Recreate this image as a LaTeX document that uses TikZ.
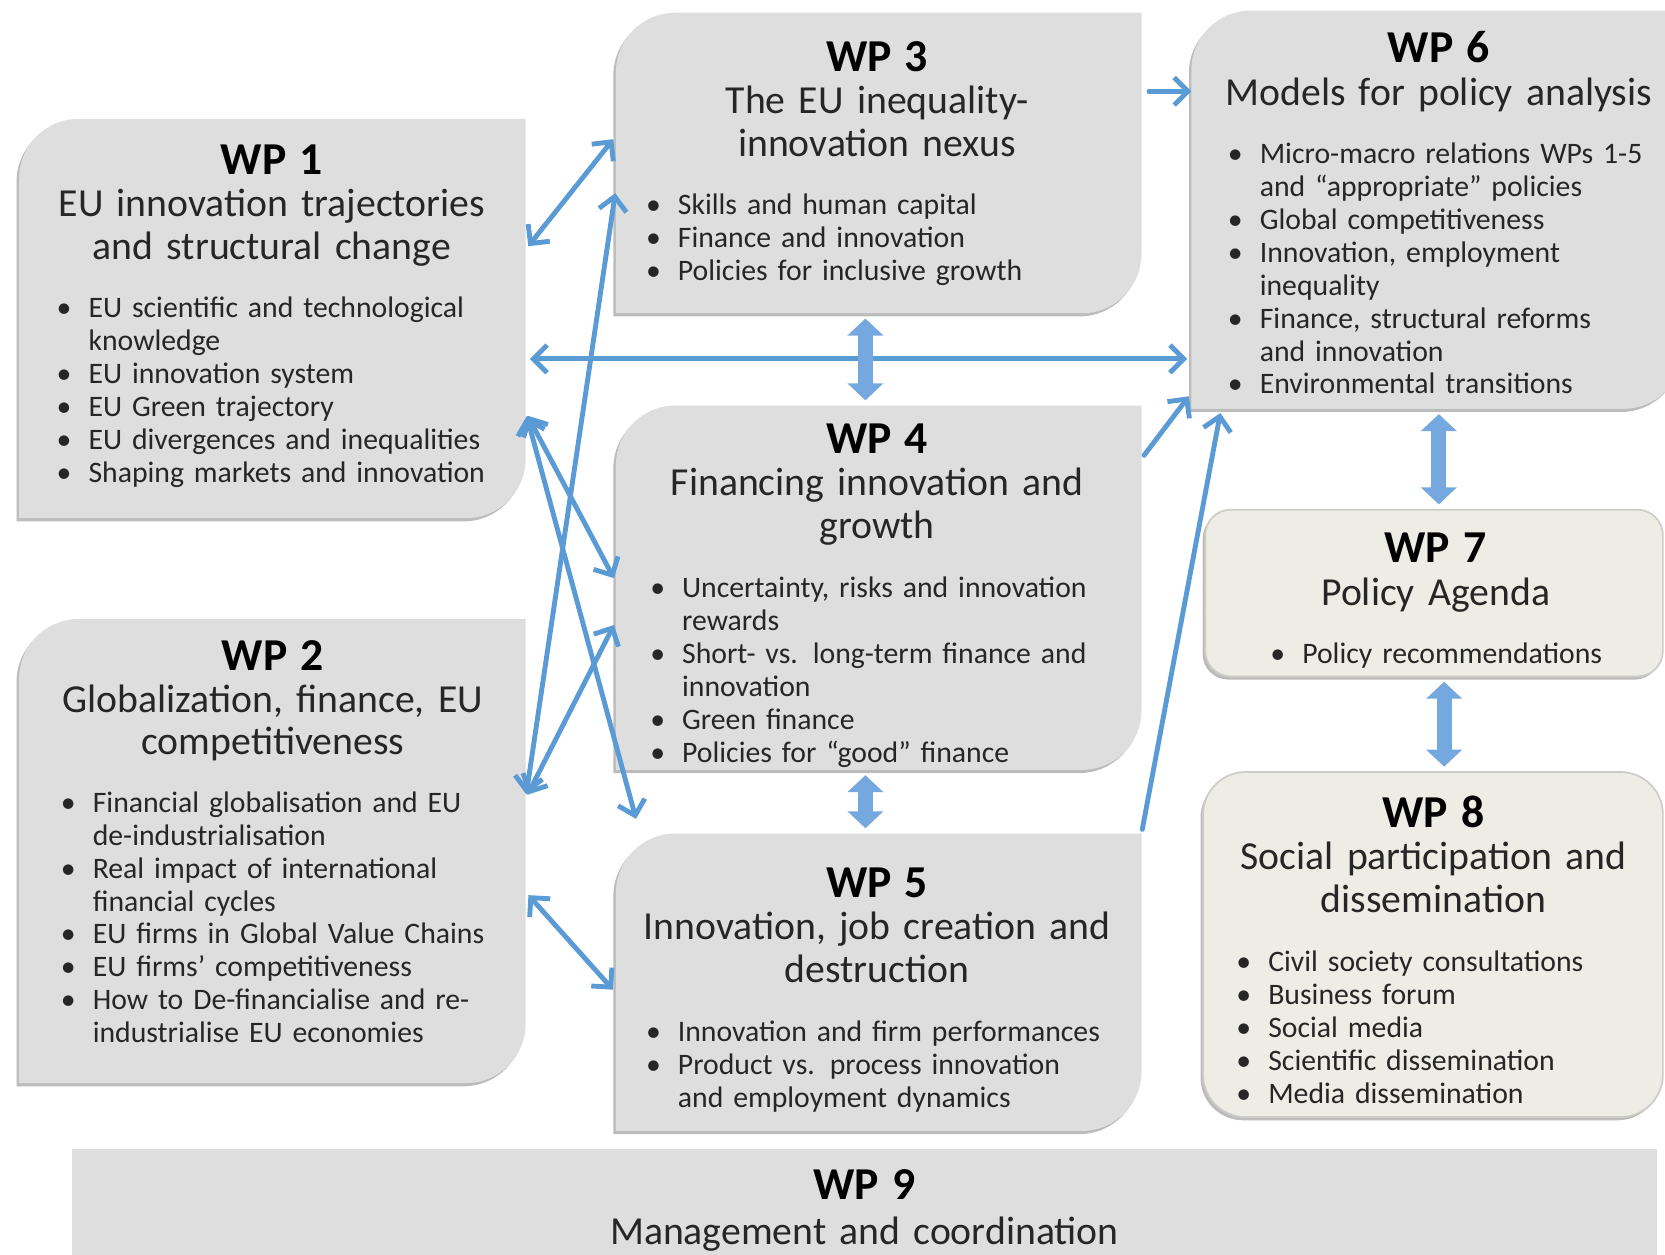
\documentclass[tikz,border=0pt]{standalone}
\usepackage{fontspec}
\setmainfont{Carlito}
\usetikzlibrary{arrows.meta,fit,calc}

\definecolor{wpgray}{RGB}{222,222,222}
\definecolor{wpbeige}{RGB}{237,236,229}
\definecolor{wpedge}{RGB}{205,205,200}
\definecolor{wpshadow}{RGB}{188,188,188}
\definecolor{wpline}{RGB}{91,155,213}
\definecolor{wpblock}{RGB}{118,168,224}
\definecolor{wptext}{RGB}{38,38,38}

\newcommand{\hdfont}{\fontsize{21.5}{22}\selectfont\bfseries\color{black}}
\newcommand{\ttlfont}{\fontsize{18.7}{20}\selectfont}
\newcommand{\bulfont}{\fontsize{14}{15.5}\selectfont}
\newcommand{\bu}{\makebox[15pt][l]{\textbullet}}
\newcommand{\bc}{\hspace*{15pt}}

% box with rounded top left and bottom right corners
\newcommand{\wpshape}[2]{%
  \fill[#2] (#1.south west) -- ([yshift=-28pt]#1.north west)
    .. controls ([yshift=-12.5pt]#1.north west) and ([xshift=12.5pt]#1.north west) .. ([xshift=28pt]#1.north west)
    -- (#1.north east) -- ([yshift=28pt]#1.south east)
    .. controls ([yshift=12.5pt]#1.south east) and ([xshift=-12.5pt]#1.south east) .. ([xshift=-28pt]#1.south east)
    -- cycle;}

\tikzset{
  wp/.style={inner sep=0pt, outer sep=0pt},
  shade/.style={wpshadow, transform canvas={xshift=-1.2pt,yshift=-1.5pt}},
  roundbox/.style={fill=wpbeige, draw=wpedge, line width=0.8pt},
  ttl/.style={anchor=base, text width=250pt, align=center, inner sep=0pt, font=\ttlfont, text=wptext},
  bul/.style={anchor=base west, text width=240pt, align=left, inner sep=0pt, font=\bulfont, text=wptext},
  link/.style={wpline, line width=2.3pt, line cap=round, >={Straight Barb[length=6.5pt,width=13pt]}, shorten <=2pt, shorten >=2pt},
  block/.style={wpblock, line width=7pt, <->, >={Triangle[length=8pt,width=16.5pt]}, shorten <=2.5pt, shorten >=2.5pt},
}

\begin{document}
\begin{tikzpicture}[x=0.5pt,y=-0.5pt]
\useasboundingbox (0,0) rectangle (1568,1181);

% box outlines
\node[wp, fit={(18,112) (495,488)}] (wp1) {};
\node[wp, fit={(18,583) (495,1020)}] (wp2) {};
\node[wp, fit={(580,12) (1075,295)}] (wp3) {};
\node[wp, fit={(580,382) (1075,725)}] (wp4) {};
\node[wp, fit={(580,785) (1075,1065)}] (wp5) {};
\node[wp, fit={(1122,10) (1585,385)}] (wp6) {};
\node[wp, fit={(1135,480) (1566,637)}] (wp7) {};
\node[wp, fit={(1133,727) (1566,1052)}] (wp8) {};
\node[wp, fit={(68,1082) (1560,1200)}] (wp9) {};

\foreach \b in {wp1,wp2,wp3,wp4,wp5,wp6} {
  \wpshape{\b}{shade}
  \wpshape{\b}{wpgray}
}
\fill[shade, rounded corners=12pt] (wp7.south west) rectangle (wp7.north east);
\path[roundbox, rounded corners=12pt] (wp7.south west) rectangle (wp7.north east);
\fill[shade, rounded corners=20pt] (wp8.south west) rectangle (wp8.north east);
\path[roundbox, rounded corners=20pt] (wp8.south west) rectangle (wp8.north east);
\fill[wpgray] (wp9.south west) rectangle (wp9.north east);

% WP 1
\node[ttl] (wp1t) at (256,164) {{\hdfont WP 1}\\EU innovation trajectories\\and structural change};
\node[bul] (wp1b) at (53,299) {\bu EU scientific and technological\\\bc knowledge\\\bu EU innovation system\\\bu EU Green trajectory\\\bu EU divergences and inequalities\\\bu Shaping markets and innovation};

% WP 2
\node[ttl] (wp2t) at (257,631) {{\hdfont WP 2}\\Globalization, finance, EU\\competitiveness};
\node[bul] (wp2b) at (57,765) {\bu Financial globalisation and EU\\\bc de-industrialisation\\\bu Real impact of international\\\bc financial cycles\\\bu EU firms in Global Value Chains\\\bu EU firms’ competitiveness\\\bu How to De-financialise and re-\\\bc industrialise EU economies};

% WP 3
\node[ttl] (wp3t) at (826,67) {{\hdfont WP 3}\\The EU inequality-\\innovation nexus};
\node[bul] (wp3b) at (608,202) {\bu Skills and human capital\\\bu Finance and innovation\\\bu Policies for inclusive growth};

% WP 4
\node[ttl] (wp4t) at (826,427) {{\hdfont WP 4}\\Financing innovation and\\growth};
\node[bul] (wp4b) at (612,563) {\bu Uncertainty, risks and innovation\\\bc rewards\\\bu Short- vs. long-term finance and\\\bc innovation\\\bu Green finance\\\bu Policies for “good” finance};

% WP 5
\node[ttl] (wp5t) at (826,845) {{\hdfont WP 5}\\Innovation, job creation and\\destruction};
\node[bul] (wp5b) at (608,981) {\bu Innovation and firm performances\\\bu Product vs. process innovation\\\bc and employment dynamics};

% WP 6
\node[ttl] (wp6t) at (1355,59) {{\hdfont WP 6}\\Models for policy analysis};
\node[bul] (wp6b) at (1156,154) {\bu Micro-macro relations WPs 1-5\\\bc and “appropriate” policies\\\bu Global competitiveness\\\bu Innovation, employment\\\bc inequality\\\bu Finance, structural reforms\\\bc and innovation\\\bu Environmental transitions};

% WP 7
\node[ttl] (wp7t) at (1352,530) {{\hdfont WP 7}\\Policy Agenda};
\node[bul] (wp7b) at (1196,625) {\bu Policy recommendations};

% WP 8
\node[ttl] (wp8t) at (1350,779) {{\hdfont WP 8}\\Social participation and\\dissemination};
\node[bul] (wp8b) at (1164,915) {\bu Civil society consultations\\\bu Business forum\\\bu Social media\\\bu Scientific dissemination\\\bu Media dissemination};

% WP 9
\node[ttl] (wp9t) at (814,1130) {{\hdfont WP 9}\\[1pt]Management and coordination};

% links
\draw[link,<->] (wp1.east |- 0,235) -- (wp3.west |- 0,128);
\draw[link,->,shorten >=0pt,shorten <=3.5pt] (wp3.east |- 0,86) -- (wp6.west |- 0,86);
\draw[link,<->] (wp1.east |- 0,338) -- (wp6.west |- 0,338);
\draw[link,<->] (wp2.east |- 0,752) -- (wp3.west |- 0,178);
\draw[link,<->] (wp2.east |- 0,752) -- (wp4.west |- 0,585);
\draw[link,<->] (wp1.east |- 0,388) -- (wp4.west |- 0,548);
\draw[link,<->] (wp1.east |- 0,388) -- ([xshift=10pt,yshift=5pt]wp5.north west);
\draw[link,<->] (wp2.east |- 0,840) -- (wp5.west |- 0,935);
\draw[link,->] (wp4.east |- 0,432) -- (wp6.west |- 0,370);
\draw[link,->] (wp5.north east) -- ([xshift=14pt]wp6.south west);

% block arrows
\draw[block] (815,0 |- wp3.south) -- (815,0 |- wp4.north);
\draw[block] (815,0 |- wp4.south) -- (815,0 |- wp5.north);
\draw[block] (1355,0 |- wp6.south) -- (1355,0 |- wp7.north);
\draw[block] (1360,0 |- wp7.south) -- (1360,0 |- wp8.north);
\end{tikzpicture}
\end{document}
